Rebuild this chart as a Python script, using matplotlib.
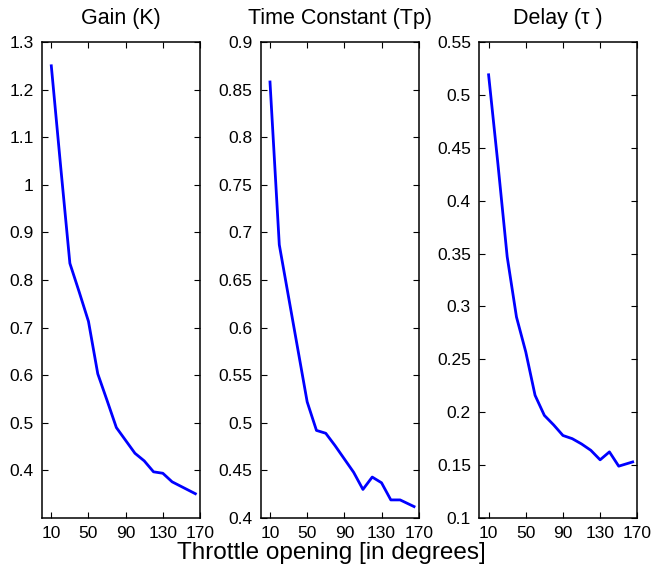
import matplotlib
matplotlib.use('Agg')
import matplotlib.pyplot as plt

# ==[0] Data

throttle = [10, 20, 30, 40, 50, 60, 70, 80, 90, 100, 110, 120, 130, 140, 150, 165]

gain = [1.25, 1.04, 0.835, 0.775, 0.713, 0.603, 0.547, 0.49, 0.463, 0.436,
        0.42, 0.397, 0.394, 0.376, 0.366, 0.351]
tconst = [0.858, 0.687, 0.632, 0.577, 0.522, 0.492, 0.489, 0.476, 0.462, 0.448,
          0.430, 0.443, 0.437, 0.419, 0.419, 0.412]
delay = [0.519, 0.435, 0.347, 0.290, 0.257, 0.216, 0.197, 0.188, 0.178, 0.175,
         0.170, 0.164, 0.155, 0.1625, 0.149, 0.153]

titles = ['Gain (K)', 'Time Constant (Tp)', 'Delay (\u03c4 )']
xticks = [10, 50, 90, 130, 170]
yticks_list = [[0.4, 0.5, 0.6, 0.7, 0.8, 0.9, 1.0, 1.1, 1.2, 1.3],
               [0.4, 0.45, 0.5, 0.55, 0.6, 0.65, 0.7, 0.75, 0.8, 0.85, 0.9],
               [0.1, 0.15, 0.2, 0.25, 0.3, 0.35, 0.4, 0.45, 0.5, 0.55]]
ytick_labels = [['0.4', '0.5', '0.6', '0.7', '0.8', '0.9', '1', '1.1', '1.2', '1.3'],
                ['0.4', '0.45', '0.5', '0.55', '0.6', '0.65', '0.7', '0.75', '0.8', '0.85', '0.9'],
                ['0.1', '0.15', '0.2', '0.25', '0.3', '0.35', '0.4', '0.45', '0.5', '0.55']]
ylims = [(0.3, 1.3), (0.4, 0.9), (0.1, 0.55)]

# ==[1] Figure layout (pixel positions from the reference)

plt.rcParams['font.family'] = ['Liberation Sans', 'DejaVu Sans']

W, H = 652, 573
fig = plt.figure(figsize=(W / 100, H / 100), dpi=100)

lefts = [42, 260.7, 479.3]
width = 158
top, bottom = 42, 518

series = [gain, tconst, delay]
for i in range(3):
    ax = fig.add_axes([lefts[i] / W, 1 - bottom / H, width / W, (bottom - top) / H])
    ax.plot(throttle, series[i], color='#0000ff', linewidth=2.0)
    ax.set_xlim(0, 170)
    ax.set_ylim(*ylims[i])
    ax.set_xticks(xticks)
    ax.set_yticks(yticks_list[i])
    ax.set_yticklabels(ytick_labels[i])
    ax.tick_params(direction='in', top=True, right=True, length=4, width=0.8,
                   labelsize=12.5, pad=6)
    for s in ax.spines.values():
        s.set_linewidth(1.1)
    ax.set_title(titles[i], fontsize=15.5, pad=13)

fig.text(0.5 + 0.008, 1 - 553 / H, 'Throttle opening [in degrees]', ha='center', va='center',
         fontsize=17.5)

fig.savefig('out.png', dpi=100)
